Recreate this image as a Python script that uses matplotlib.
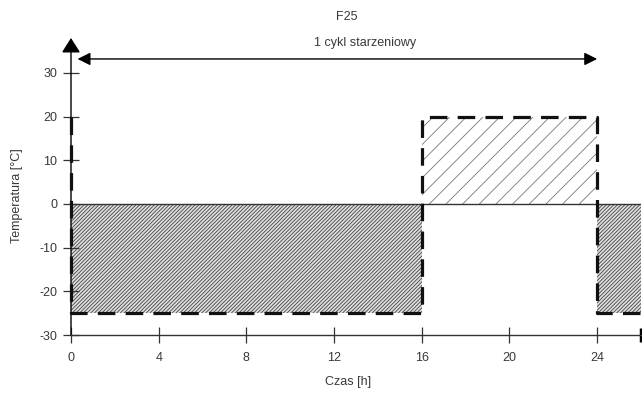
import matplotlib
matplotlib.use("Agg")
import matplotlib.pyplot as plt

# --- data ---
time_edges = [0, 16, 24, 26]          # h
temp_levels = [-25, 20, -25]          # °C for each phase
base_level = 0                        # °C (reference line)
cycle_span = [0.3, 24]                # h, "1 cykl starzeniowy"
x_ticks = [0, 4, 8, 12, 16, 20, 24]
y_ticks = [-30, -20, -10, 0, 10, 20, 30]
title = "F25"
cycle_label = "1 cykl starzeniowy"
x_label = "Czas [h]"
y_label = "Temperatura [°C]"

plt.rcParams['font.family'] = ['Liberation Sans', 'DejaVu Sans']
plt.rcParams['hatch.linewidth'] = 0.6

fig = plt.figure(figsize=(6.42, 3.94), dpi=100)
ax = fig.add_axes([71/642, 59/394, 570/642, 297/394])
ax.set_xlim(0, 26)
ax.set_ylim(-30, 38)

txt_col = '#383838'

# shaded phases
for i, lvl in enumerate(temp_levels):
    x0, x1 = time_edges[i], time_edges[i + 1]
    if lvl < base_level:
        ax.fill_between([x0, x1], lvl, base_level, facecolor='#dedede',
                        hatch='/////////', edgecolor='#444444', linewidth=0)
    else:
        ax.fill_between([x0, x1], base_level, lvl, facecolor='white',
                        hatch='//', edgecolor='#777777', linewidth=0)

# reference line at 0
ax.plot([time_edges[0], time_edges[-1]], [base_level, base_level],
        color='#333333', lw=1.0, zorder=3)

# dashed temperature profile
px = [time_edges[0]]
py = [temp_levels[1]]
for i, lvl in enumerate(temp_levels):
    px += [time_edges[i], time_edges[i + 1]]
    py += [lvl, lvl]
ax.plot(px, py, color='#111111', lw=2.3, dashes=(5.5, 3.2),
        solid_capstyle='butt', dash_capstyle='butt', zorder=4, clip_on=False)

# axes styling
for s in ['top', 'right']:
    ax.spines[s].set_visible(False)
ax.spines['left'].set_visible(False)
ax.spines['bottom'].set_color('#333333')
ax.spines['bottom'].set_linewidth(1.0)

# y axis with arrow
ax.annotate('', xy=(0, 38), xytext=(0, -30), xycoords='data',
            arrowprops=dict(arrowstyle='-|>,head_length=0.6,head_width=0.38',
                            mutation_scale=15, color='black', lw=1.0,
                            shrinkA=0, shrinkB=0), annotation_clip=False,
            zorder=2)

# end mark on x axis
ax.plot([26, 26], [-31.7, -28.3], color='black', lw=2.5, clip_on=False,
        solid_capstyle='butt')

ax.set_xticks(x_ticks)
ax.set_yticks(y_ticks)
ax.set_xticklabels([str(v) for v in x_ticks])
ax.set_yticklabels([str(v) for v in y_ticks])
ax.tick_params(axis='x', direction='inout', length=12, width=0.9,
               colors='#333333', labelcolor=txt_col, labelsize=9, pad=6)
ax.tick_params(axis='y', direction='inout', length=11.5, width=0.9,
               colors='#333333', labelcolor=txt_col, labelsize=9, pad=4)

# cycle arrow
ax.annotate('', xy=(cycle_span[1], 33.2), xytext=(cycle_span[0], 33.2),
            arrowprops=dict(arrowstyle='<|-|>,head_length=0.7,head_width=0.35',
                            mutation_scale=11, color='black', lw=1.0,
                            shrinkA=0, shrinkB=0))
ax.text(13.4, 35.5, cycle_label, ha='center', va='bottom', fontsize=9,
        color=txt_col)

fig.text(347/642, 1 - 17/394, title, ha='center', va='center', fontsize=9,
         color=txt_col)

ax.set_xlabel(x_label, fontsize=9, color=txt_col)
ax.xaxis.set_label_coords((348 - 71) / 570, (335 - 376) / 297)
ax.set_ylabel(y_label, fontsize=9, color=txt_col)
ax.yaxis.set_label_coords((23 - 71) / 570, (335 - 196) / 297)

fig.savefig('out.png', dpi=100)
